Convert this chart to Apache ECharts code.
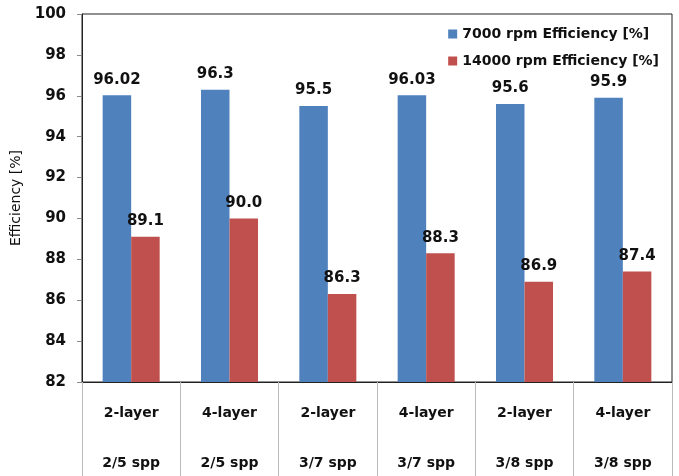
<!DOCTYPE html>
<html>
<head>
<meta charset="utf-8">
<script src="https://cdn.jsdelivr.net/npm/echarts@6/dist/echarts.min.js"></script>
<style>
  html, body { margin: 0; padding: 0; background: #fff; }
  #chart { width: 679px; height: 476px; }
</style>
</head>
<body>
<div id="chart"></div>
<script>
const layers = ["2-layer", "4-layer", "2-layer", "4-layer", "2-layer", "4-layer"];
const spp = ["2/5 spp", "2/5 spp", "3/7 spp", "3/7 spp", "3/8 spp", "3/8 spp"];
const eff7000 = [96.02, 96.3, 95.5, 96.03, 95.6, 95.9];
const eff14000 = [89.1, 90.0, 86.3, 88.3, 86.9, 87.4];
const seriesNames = ["7000 rpm Efficiency [%]", "14000 rpm Efficiency [%]"];

const categories = layers.map((l, i) => l + "\n" + spp[i]);
const font = "DejaVu Sans";

const chart = echarts.init(document.getElementById("chart"));
chart.setOption({
  animation: false,
  textStyle: { fontFamily: font },
  color: ["#4F81BD", "#C0504D"],
  grid: {
    left: 82, right: 7, top: 14, bottom: 94,
    outerBoundsMode: "none",
    containLabel: false,
    show: true, borderColor: "#222", borderWidth: 1
  },
  legend: {
    orient: "vertical",
    right: 15, top: 22,
    itemWidth: 9, itemHeight: 9, itemGap: 13,
    icon: "rect",
    data: seriesNames,
    textStyle: { fontFamily: font, fontSize: 14, fontWeight: "bold", color: "#111" }
  },
  xAxis: {
    type: "category",
    data: categories,
    axisLine: { lineStyle: { color: "#222" } },
    axisTick: { show: true, length: 94, lineStyle: { color: "#bbb" } },
    axisLabel: {
      margin: 6,
      fontFamily: font, fontSize: 14, fontWeight: "bold", color: "#111",
      lineHeight: 50
    }
  },
  yAxis: {
    type: "value",
    min: 82, max: 100, interval: 2,
    name: "Efficiency [%]",
    nameLocation: "middle",
    nameGap: 51,
    nameTextStyle: { fontFamily: font, fontSize: 14, color: "#111" },
    axisLine: { show: true, lineStyle: { color: "#222" } },
    axisTick: { show: true, length: 5, lineStyle: { color: "#888" } },
    axisLabel: { fontFamily: font, fontSize: 15, fontWeight: "bold", color: "#111", margin: 16 },
    splitLine: { show: false }
  },
  series: [
    {
      name: seriesNames[0],
      type: "bar",
      data: eff7000,
      barWidth: "29%",
      barGap: "0%",
      label: {
        show: true, position: "top", distance: 8,
        fontFamily: font, fontSize: 15, fontWeight: "bold", color: "#111"
      }
    },
    {
      name: seriesNames[1],
      type: "bar",
      data: eff14000,
      barWidth: "29%",
      barGap: "0%",
      label: {
        show: true, position: "top", distance: 8,
        fontFamily: font, fontSize: 15, fontWeight: "bold", color: "#111",
        formatter: p => p.value.toFixed(1)
      }
    }
  ]
});
</script>
</body>
</html>
